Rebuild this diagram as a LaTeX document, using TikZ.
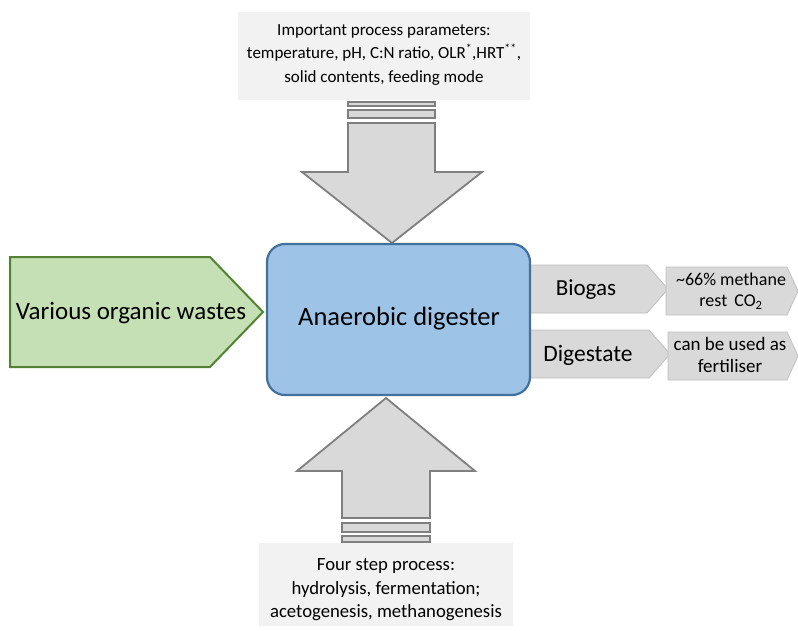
\documentclass[tikz,border=0pt]{standalone}
\usepackage{fontspec}
\setmainfont{Carlito}
\definecolor{paramfill}{HTML}{F2F2F2}
\definecolor{arrowfill}{HTML}{D9D9D9}
\definecolor{arrowline}{HTML}{7F7F7F}
\definecolor{outline}{HTML}{BFBFBF}
\definecolor{digfill}{HTML}{9DC3E6}
\definecolor{digline}{HTML}{41719C}
\definecolor{wastefill}{HTML}{C5E0B4}
\definecolor{wasteline}{HTML}{548235}
\tikzset{
  infobox/.style={fill=paramfill, draw=none},
  bigarrow/.style={fill=arrowfill, draw=arrowline, line width=1.8pt, line join=miter},
  stripe/.style={fill=arrowfill, draw=arrowline, line width=1.2pt},
  outarrow/.style={fill=arrowfill, draw=outline, line width=0.8pt},
  txt/.style={inner sep=0pt, align=center, text=black},
}
\begin{document}
\begin{tikzpicture}[x=1pt,y=-1pt]
\useasboundingbox (0,0) rectangle (798,630);

% process parameter box (top)
\fill[infobox] (238,12) rectangle (530,100);
\node[txt, font=\fontsize{17}{23.5}\selectfont] (params) at (384,55)
  {Important process parameters:\\
   temperature, pH, C:N ratio, OLR\textsuperscript{*},HRT\textsuperscript{**},\\
   solid contents, feeding mode};

% downward block arrow with stripes
\draw[stripe] (348,102) rectangle (435,106);
\draw[stripe] (348,110) rectangle (435,118);
\draw[bigarrow] (348,123) -- (435,123) -- (435,172) -- (482,172) -- (392,243)
  -- (302,172) -- (348,172) -- cycle;

% four step process box (bottom)
\fill[infobox] (259,543) rectangle (513,626);
\node[txt, font=\fontsize{18.7}{23.5}\selectfont] (steps) at (386,590)
  {Four step process:\\
   hydrolysis, fermentation;\\
   acetogenesis, methanogenesis};

% upward block arrow with stripes
\draw[stripe] (342,523) rectangle (430,532);
\draw[stripe] (342,536) rectangle (430,542);
\draw[bigarrow] (342,518) -- (430,518) -- (430,471) -- (475,471) -- (386,398)
  -- (297,471) -- (342,471) -- cycle;

% output arrows on the right
\draw[outarrow] (528,265) -- (647,265) -- (668,289) -- (647,313) -- (528,313) -- cycle;
\node[txt, font=\fontsize{23}{25}\selectfont] (biogas) at (586,290) {Biogas};
\draw[outarrow] (528,330) -- (649,330) -- (670,354) -- (649,378) -- (528,378) -- cycle;
\node[txt, font=\fontsize{23.5}{25}\selectfont] (digestate) at (588,355) {Digestate};

\draw[outarrow] (666,267) -- (787,267) -- (798,291) -- (787,315) -- (666,315) -- cycle;
\node[txt, font=\fontsize{18}{21}\selectfont] (methane) at (731,291)
  {\textasciitilde66\% methane\\ rest\, CO\textsubscript{2}};
\draw[outarrow] (668,332) -- (787,332) -- (798,356) -- (787,380) -- (668,380) -- cycle;
\node[txt, font=\fontsize{19}{22}\selectfont] (fert) at (730,355)
  {can be used as\\ fertiliser};

% anaerobic digester
\draw[fill=digfill, draw=digline, line width=2.2pt, rounded corners=18pt]
  (267,244) rectangle (530,395);
\node[txt, font=\fontsize{26.5}{28}\selectfont] (digester) at (399,319) {Anaerobic digester};

% feedstock arrow
\draw[fill=wastefill, draw=wasteline, line width=2pt, line join=miter]
  (10,257) -- (210,257) -- (263,312) -- (210,367) -- (10,367) -- cycle;
\node[txt, font=\fontsize{25}{27}\selectfont] (wastes) at (131,313) {Various organic wastes};
\end{tikzpicture}
\end{document}
